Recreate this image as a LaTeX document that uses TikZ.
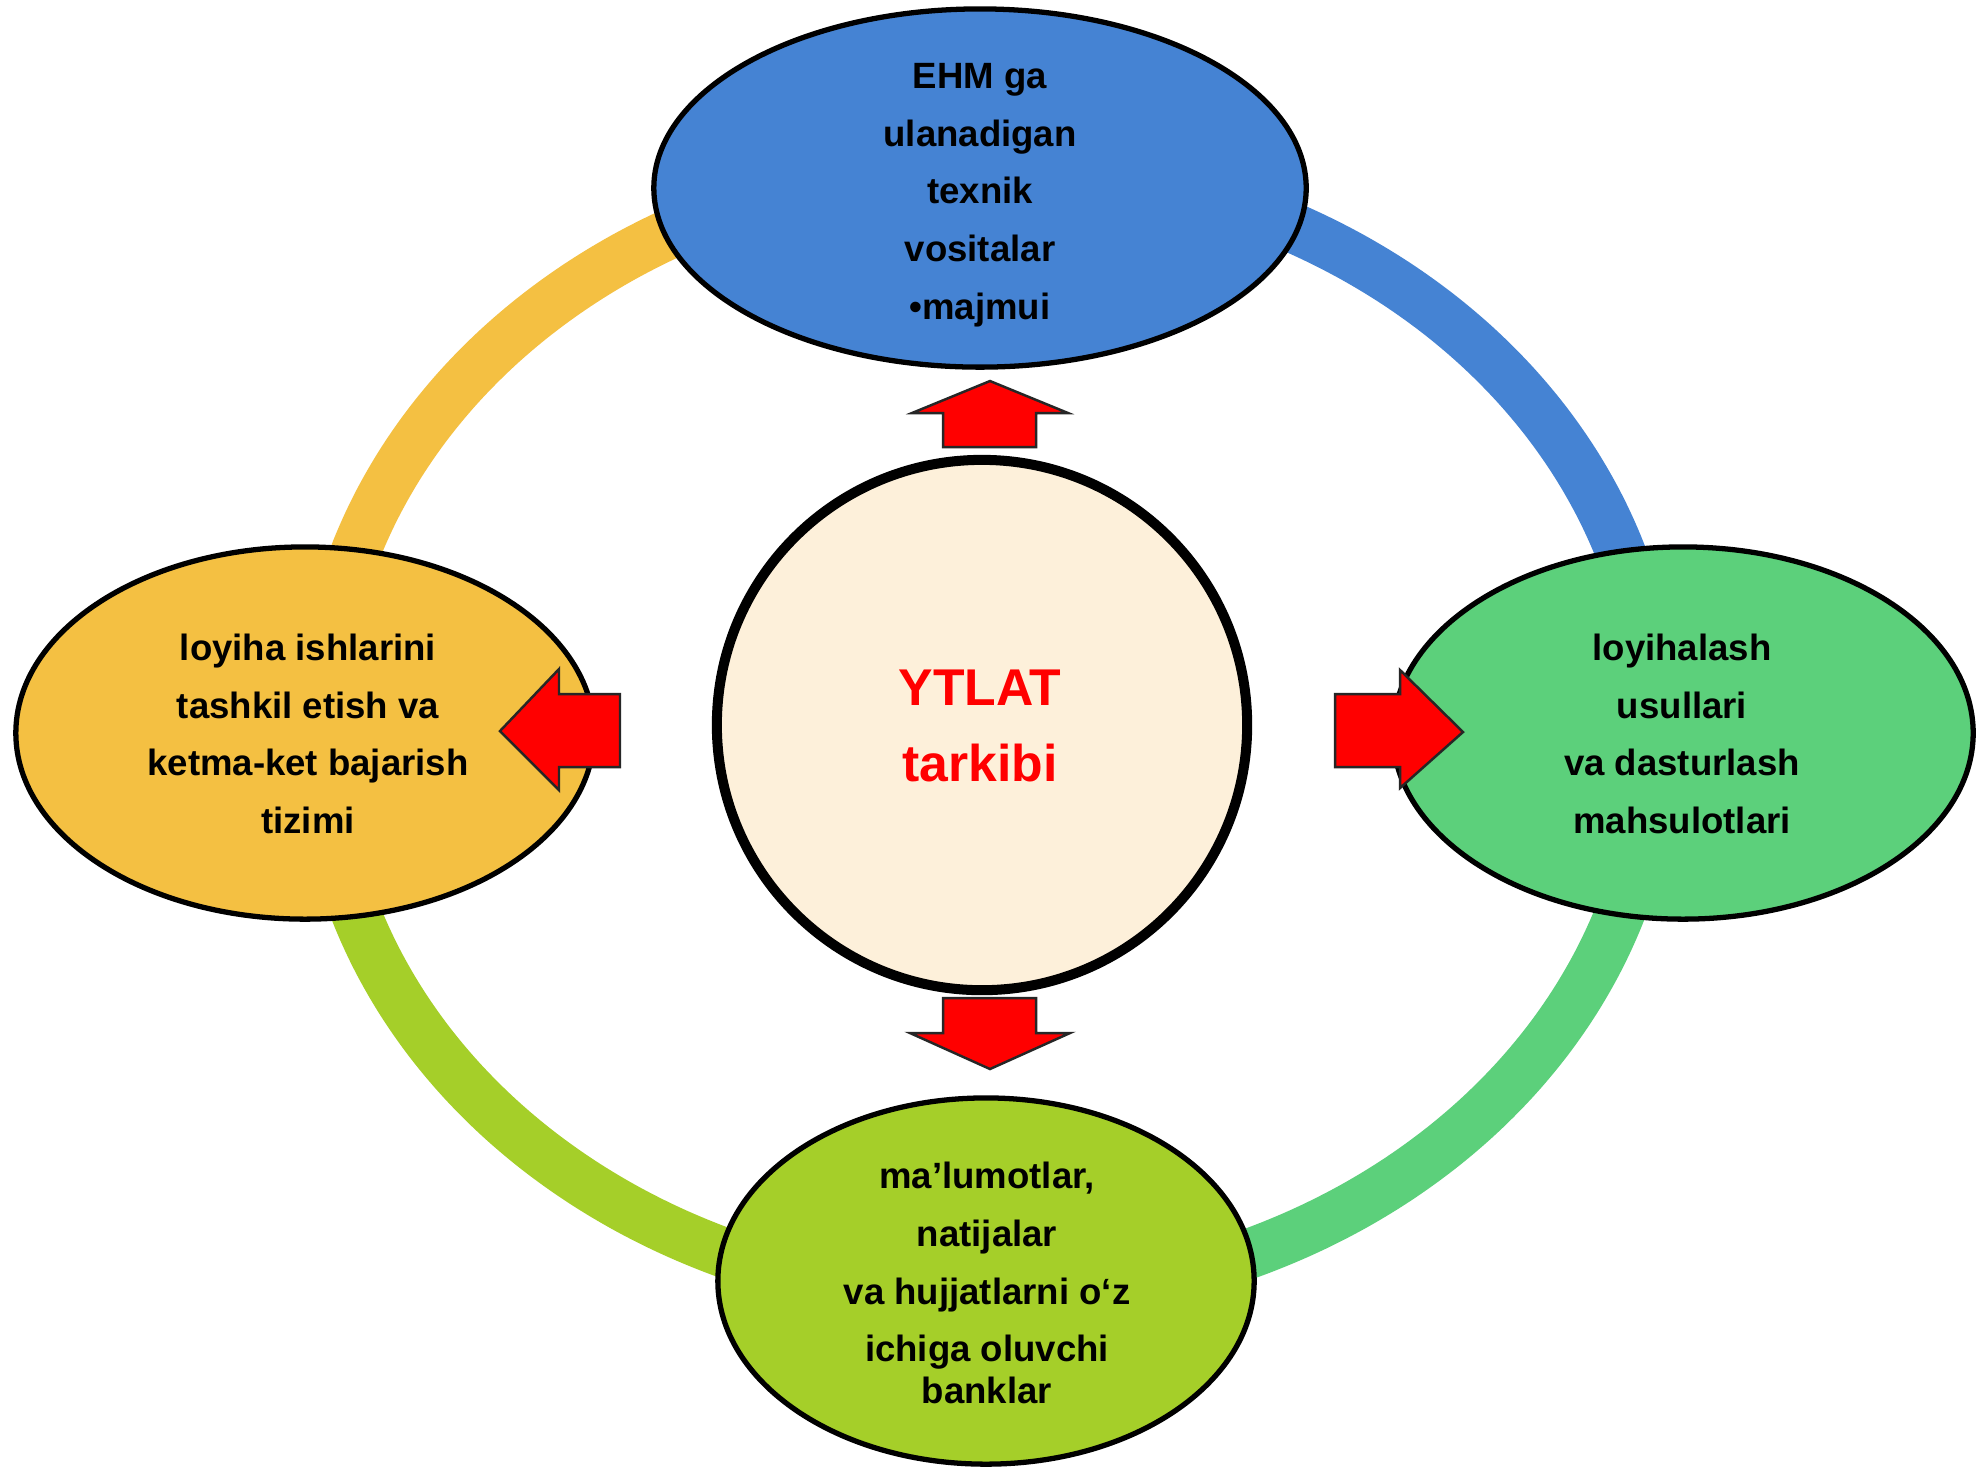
\documentclass[tikz,border=0pt]{standalone}
\usepackage{fontspec}
\setmainfont{Liberation Sans}
\usetikzlibrary{shapes.geometric}
\definecolor{cyel}{HTML}{F4C042}
\definecolor{cblue}{HTML}{4583D3}
\definecolor{cgreen}{HTML}{5CD07B}
\definecolor{clime}{HTML}{A5CF29}
\definecolor{ccream}{HTML}{FDF0DA}
\begin{document}
\begin{tikzpicture}[x=0.01cm,y=-0.01cm,
  bubble/.style={ellipse, draw=black, line width=1.5pt, inner sep=0pt},
  bubbletext/.style={align=center, inner sep=0pt, font=\bfseries\fontsize{10.4}{16.4}\selectfont},
  ringseg/.style={line width=14.2pt},
  blockarrow/.style={fill=red, draw=black!85, line width=0.7pt, line join=miter}]
\useasboundingbox (0,0) rectangle (1980,1468);
\fill[white] (0,0) rectangle (1980,1468);
% ring
\draw[ringseg, cyel] plot[domain=175:275, samples=80, smooth] ({988+667*cos(\x)},{732+567*sin(\x)});
\draw[ringseg, cblue] plot[domain=265:365, samples=80, smooth] ({988+667*cos(\x)},{732+567*sin(\x)});
\draw[ringseg, cgreen] plot[domain=-5:95, samples=80, smooth] ({988+667*cos(\x)},{732+567*sin(\x)});
\draw[ringseg, clime] plot[domain=85:185, samples=80, smooth] ({988+667*cos(\x)},{732+567*sin(\x)});
% ellipses
\node[bubble, fill=cblue, minimum width=6.52cm, minimum height=3.58cm] (top) at (980,188) {};
\node[bubble, fill=cyel, minimum width=5.78cm, minimum height=3.72cm] (left) at (305,733) {};
\node[bubble, fill=cgreen, minimum width=5.80cm, minimum height=3.72cm] (right) at (1683,733) {};
\node[bubble, fill=clime, minimum width=5.36cm, minimum height=3.66cm] (bottom) at (986,1281) {};
\node[circle, draw=black, line width=2.85pt, fill=ccream, minimum size=5.3cm, inner sep=0pt] (center) at (982,725) {};
% texts
\node[bubbletext] (toptext) at (980,195) {EHM ga\\ulanadigan\\texnik\\vositalar\\•majmui};
\node[bubbletext] (lefttext) at (308,734) {loyiha ishlarini\\tashkil etish va\\ketma-ket bajarish\\tizimi};
\node[bubbletext] (righttext) at (1682,734) {loyihalash\\usullari\\va dasturlash\\mahsulotlari};
\node[bubbletext] (bottomtext) at (987,1283) {ma’lumotlar,\\natijalar\\va hujjatlarni o‘z\\ichiga oluvchi\\[-4.6pt]banklar};
\node[align=center, inner sep=0pt, text=red, font=\bfseries\fontsize{14.7}{21.6}\selectfont] (centertext) at (980,726) {YTLAT\\tarkibi};
% block arrows
\draw[blockarrow] (943,447) -- (943,413) -- (912,413) -- (990,381) -- (1068,413) -- (1036,413) -- (1036,447) -- cycle;
\draw[blockarrow] (943,998) -- (943,1033) -- (910,1033) -- (990,1069) -- (1070,1033) -- (1036,1033) -- (1036,998) -- cycle;
\draw[blockarrow] (620,694) -- (559,694) -- (559,669) -- (500,731) -- (559,790) -- (559,767) -- (620,767) -- cycle;
\draw[blockarrow] (1335,694) -- (1400,694) -- (1400,670) -- (1463,732) -- (1400,788) -- (1400,767) -- (1335,767) -- cycle;
\end{tikzpicture}
\end{document}
